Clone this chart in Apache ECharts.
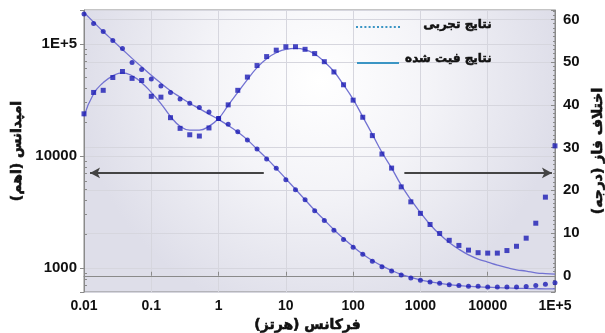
<!DOCTYPE html>
<html>
<head>
<meta charset="utf-8">
<script src="https://cdn.jsdelivr.net/npm/echarts@6/dist/echarts.min.js"></script>
<style>
  html, body { margin: 0; padding: 0; background: #fff; overflow: hidden; }
  #chart { width: 605px; height: 333px; }
</style>
</head>
<body>
<div id="chart"></div>
<script>
// frequency (Hz), 7 points per decade
const freq = [
  0.01, 0.0139, 0.0193, 0.0268, 0.0373, 0.0518, 0.072,
  0.1, 0.139, 0.193, 0.268, 0.373, 0.518, 0.72,
  1, 1.39, 1.93, 2.68, 3.73, 5.18, 7.2,
  10, 13.9, 19.3, 26.8, 37.3, 51.8, 72,
  100, 139, 193, 268, 373, 518, 720,
  1000, 1390, 1930, 2680, 3730, 5180, 7200,
  10000, 13900, 19300, 26800, 37300, 51800, 72000,
  100000
];

// impedance (ohm)
const impExp = [184500, 151400, 128500, 107000, 90800, 68200, 59100, 48500, 42100, 36800,
  32200, 29500, 27000, 24600, 21600, 19200, 16400, 13900, 11500, 9400,
  7780, 6120, 4990, 4070, 3250, 2650, 2170, 1800, 1536, 1331,
  1153, 1028, 940, 866, 815, 778, 751, 731, 712, 698,
  688, 688, 678, 678, 678, 678, 684, 698, 716, 741];
const impFit = [189700, 156000, 128500, 107000, 89000, 74100, 62300, 52300, 44500, 38100,
  33400, 29500, 26400, 23600, 21100, 18700, 16300, 13900, 11500, 9510,
  7750, 6250, 5040, 4070, 3280, 2680, 2200, 1835, 1555, 1333,
  1168, 1045, 953, 879, 826, 785, 754, 731, 712, 698,
  688, 680, 675, 669, 665, 661, 658, 655, 653, 653];

// phase (degree)
const phaseExp = [37.9, 42.9, 43.4, 46.4, 47.8, 46.2, 45.7, 42.0, 41.8, 37.0,
  34.5, 33.0, 32.7, 34.6, 36.8, 40.0, 43.4, 46.5, 49.2, 51.3,
  52.8, 53.6, 53.6, 53.0, 52.0, 50.1, 47.7, 44.7, 41.1, 37.1,
  32.8, 28.5, 25.2, 20.8, 17.3, 14.6, 12.0, 9.9, 8.3, 7.1,
  6.0, 5.4, 5.3, 5.3, 5.9, 6.9, 8.8, 12.3, 18.4, 30.4];
const phaseFit = [37.3, 42.6, 45.2, 46.8, 47.5, 46.8, 45.2, 42.9, 40.3, 37.3,
  35.0, 34.1, 34.1, 35.0, 36.8, 39.9, 42.9, 45.9, 48.7, 50.8,
  52.2, 53.0, 53.2, 52.9, 51.9, 50.1, 47.8, 44.7, 41.3, 37.2,
  33.1, 28.9, 25.2, 21.2, 17.8, 14.8, 12.0, 9.7, 7.8, 6.2,
  4.9, 3.9, 3.2, 2.5, 1.9, 1.4, 1.1, 0.7, 0.5, 0.4];

// arrows: [from freq, to freq], drawn at impedance level arrowLevel
const arrowLeft = [4.7, 0.0123];
const arrowRight = [577, 90000];
const arrowLevel = 7060;

const RLM = '\u200F';
const font = "'Liberation Sans', 'DejaVu Sans', sans-serif";
const faFont = "'DejaVu Sans', sans-serif";
const textColor = '#111';
const pointColor = '#1c1cb4';
const fitColor = '#7272d2';
const legendColor = '#3b95c4';
const gridColor = '#d6d6de';
const axisColor = '#8a8a8a';

const pairs = (ys) => freq.map((f, i) => [f, ys[i]]);

// persian titles: thin outline to make them look bold
const faName = {
  fontSize: 14, fontWeight: 'bold', color: textColor, fontFamily: faFont,
  textBorderColor: textColor, textBorderWidth: 0.6
};

const chart = echarts.init(document.getElementById('chart'));

chart.setOption({
  animation: false,
  textStyle: { fontFamily: font },
  grid: {
    show: true,
    left: 84,
    right: 50,
    top: 10,
    bottom: 41,
    outerBoundsMode: 'none',
    containLabel: false,
    borderColor: axisColor,
    borderWidth: 1,
    backgroundColor: new echarts.graphic.RadialGradient(0.5, 0.25, 0.85, [
      { offset: 0, color: '#ffffff' },
      { offset: 0.45, color: '#f4f4f8' },
      { offset: 1, color: '#dedee9' }
    ])
  },
  xAxis: {
    type: 'log',
    min: 0.01,
    max: 100000,
    name: 'فرکانس (هرتز)' + RLM,
    nameLocation: 'middle',
    nameGap: 24,
    nameTextStyle: Object.assign({ padding: [0, 24, 0, 0] }, faName),
    axisLine: { lineStyle: { color: axisColor } },
    axisTick: { inside: true, length: 4, lineStyle: { color: axisColor } },
    axisLabel: {
      fontSize: 14, fontWeight: 'bold', color: textColor, margin: 7,
      formatter: v => v >= 100000 ? '1E+5' : String(v)
    },
    splitLine: { show: true, lineStyle: { color: gridColor } }
  },
  yAxis: [
    {
      type: 'log',
      min: 612,
      max: 200000,
      name: 'امپدانس (اهم)' + RLM,
      nameLocation: 'middle',
      nameRotate: 90,
      nameGap: 58,
      nameTextStyle: faName,
      axisLine: { show: true, lineStyle: { color: axisColor } },
      axisTick: { length: 4, lineStyle: { color: axisColor } },
      minorTick: { show: true, splitNumber: 9, length: -3, lineStyle: { color: axisColor } },
      axisLabel: {
        fontSize: 15, fontWeight: 'bold', color: textColor, margin: 7,
        showMinLabel: false, showMaxLabel: false,
        formatter: v => v >= 100000 ? '1E+5' : String(v)
      },
      splitLine: { show: true, lineStyle: { color: gridColor } }
    },
    {
      type: 'value',
      position: 'right',
      min: -3.8,
      max: 62.2,
      name: 'اختلاف فاز (درجه)' + RLM,
      nameLocation: 'middle',
      nameRotate: 90,
      nameGap: 32,
      nameTextStyle: faName,
      axisLine: { show: true, lineStyle: { color: axisColor } },
      axisTick: { inside: true, length: 4, lineStyle: { color: axisColor } },
      minorTick: { show: true, splitNumber: 10, length: 2, lineStyle: { color: axisColor } },
      axisLabel: {
        fontSize: 15, fontWeight: 'bold', color: textColor, margin: 8,
        showMinLabel: false, showMaxLabel: false
      },
      splitLine: { show: true, lineStyle: { color: gridColor } }
    }
  ],
  series: [
    {
      name: 'impFit',
      type: 'line',
      yAxisIndex: 0,
      data: pairs(impFit),
      smooth: true,
      showSymbol: false,
      lineStyle: { color: fitColor, width: 1.3 },
      z: 2,
      markLine: {
        silent: true,
        symbol: ['none', 'arrow'],
        symbolSize: [8, 10],
        label: { show: false },
        lineStyle: { color: '#444', width: 2, type: 'solid' },
        data: [
          [{ coord: [arrowLeft[0], arrowLevel] }, { coord: [arrowLeft[1], arrowLevel] }],
          [{ coord: [arrowRight[0], arrowLevel] }, { coord: [arrowRight[1], arrowLevel] }]
        ]
      }
    },
    {
      name: 'phaseFit',
      type: 'line',
      yAxisIndex: 1,
      data: pairs(phaseFit),
      smooth: true,
      showSymbol: false,
      lineStyle: { color: fitColor, width: 1.3 },
      z: 2
    },
    {
      name: 'impExp',
      type: 'scatter',
      yAxisIndex: 0,
      data: pairs(impExp),
      symbol: 'circle',
      symbolSize: 5,
      itemStyle: { color: pointColor },
      z: 3
    },
    {
      name: 'phaseExp',
      type: 'scatter',
      yAxisIndex: 1,
      data: pairs(phaseExp),
      symbol: 'rect',
      symbolSize: 5,
      itemStyle: { color: pointColor },
      z: 3
    }
  ],
  graphic: [
    {
      type: 'line', z: 10,
      shape: { x1: 356, y1: 27, x2: 401, y2: 27 },
      style: { stroke: legendColor, lineWidth: 2, lineDash: [2, 2.2] }
    },
    {
      type: 'text', z: 10, right: 113, top: 19,
      style: {
        text: 'نتایج تجربی', font: "bold 12px " + faFont,
        fill: textColor, stroke: textColor, lineWidth: 0.5
      }
    },
    {
      type: 'line', z: 10,
      shape: { x1: 357, y1: 63, x2: 399, y2: 63 },
      style: { stroke: legendColor, lineWidth: 2 }
    },
    {
      type: 'text', z: 10, right: 113, top: 53,
      style: {
        text: 'نتایج فیت شده', font: "bold 12px " + faFont,
        fill: textColor, stroke: textColor, lineWidth: 0.5
      }
    }
  ]
});
</script>
</body>
</html>
